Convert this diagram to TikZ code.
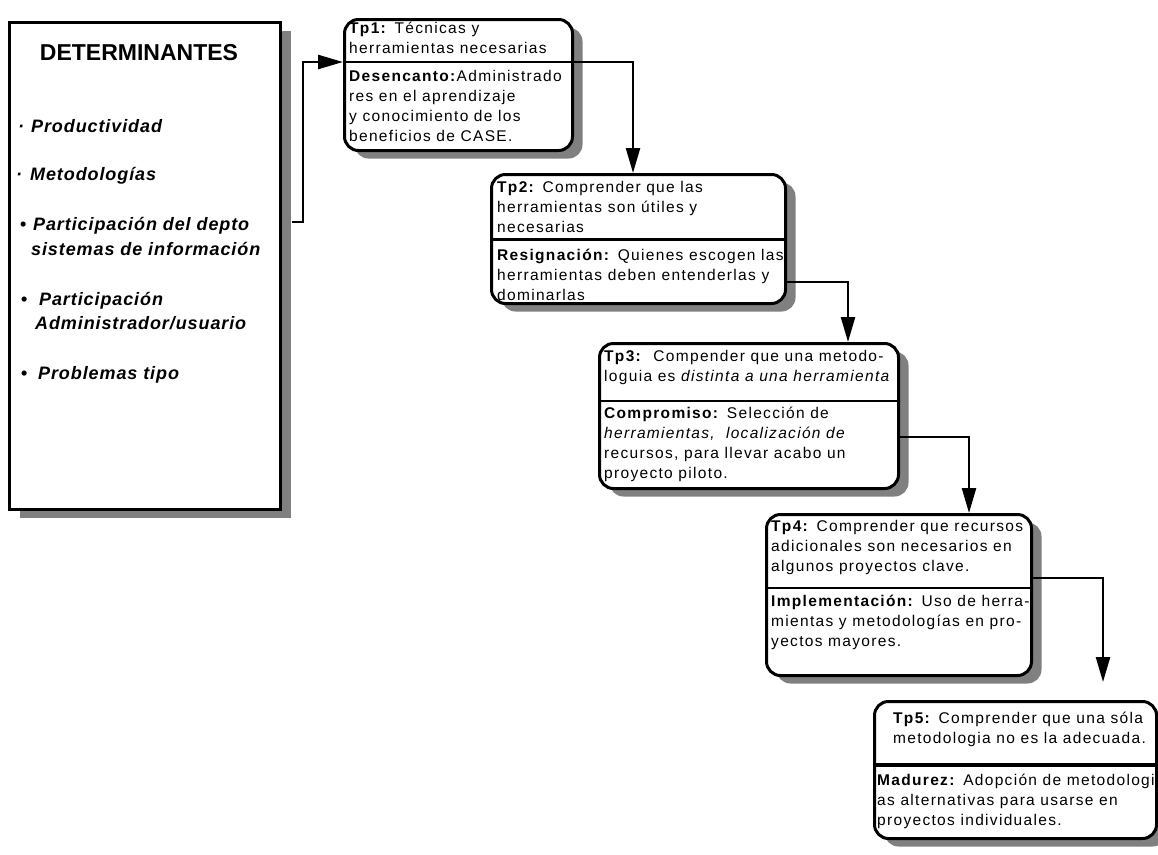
\documentclass[tikz,border=0pt]{standalone}
\usepackage{fontspec}
\setmainfont{Liberation Sans}
\newfontfamily\boxfam{Liberation Sans}[LetterSpace=8.5]
\newfontfamily\itemfam{Liberation Sans}[LetterSpace=5]
\usetikzlibrary{arrows.meta,shadows,calc}
\newcommand\bodyf{\boxfam\fontsize{15.5}{20}\selectfont}
\newcommand\itemf{\itemfam\bfseries\itshape\fontsize{18}{24}\selectfont}
\newcommand\titlef{\bfseries\fontsize{23}{28}\selectfont}
\begin{document}
\begin{tikzpicture}[x=1pt,y=-1pt,
  card/.style={draw, line width=3pt, rounded corners=14pt, fill=white,
    anchor=north west, inner sep=0pt,
    drop shadow={shadow xshift=10pt, shadow yshift=-8pt, fill=black!50, opacity=1, draw=none}},
  divl/.style={line width=2.4pt},
  conn/.style={line width=2.4pt, -{Triangle[length=25pt,width=14pt]}},
  txt/.style={anchor=north west, inner sep=0pt, align=left, font=\bodyf},
  item/.style={anchor=base west, inner sep=0pt, font=\itemf},
  bul/.style={anchor=base, inner sep=0pt, font=\itemf}]
\useasboundingbox (0,0) rectangle (1158,854);
\fill[white] (0,0) rectangle (1158,854);

% boxes
\node[card, sharp corners, minimum width=271pt, minimum height=487pt] (det) at (8,21) {};
\node[card, minimum width=228pt, minimum height=131pt] (tp1) at (343,18) {};
\node[card, minimum width=294pt, minimum height=129pt] (tp2) at (490,173) {};
\node[card, minimum width=299pt, minimum height=145pt] (tp3) at (598,342) {};
\node[card, minimum width=265pt, minimum height=161pt] (tp4) at (765,513) {};
\node[card, minimum width=282pt, minimum height=137pt] (tp5) at (873,700) {};

% dividers
\draw[divl] (tp1.west |- 0,62) -- (tp1.east |- 0,62);
\draw[divl, line width=3pt] (tp2.west |- 0,239) -- (tp2.east |- 0,239);
\draw[divl] (tp3.west |- 0,401) -- (tp3.east |- 0,401);
\draw[divl] (tp4.west |- 0,588) -- (tp4.east |- 0,588);
\draw[divl, line width=4.5pt] (tp5.west |- 0,765) -- (tp5.east |- 0,765);

% connectors
\draw[conn] ($(det.east |- 0,222)+(10,0)$) -| (303,62) -- (tp1.west |- 0,62);
\draw[conn] (tp1.east |- 0,62) -| (tp2.north -| 633,0);
\draw[conn] (tp2.east |- 0,282) -| (tp3.north -| 848,0);
\draw[conn] (tp3.east |- 0,437) -| (tp4.north -| 969,0);
\draw[conn, shorten >=18pt] (tp4.east |- 0,578) -| (tp5.north -| 1103,0);

% determinantes
\node[font=\titlef, anchor=base, inner sep=0pt] (title) at (139,60) {DETERMINANTES};
\node[bul] (b1) at (21,132) {·};
\node[item] (i1) at (31,132) {Productividad};
\node[bul] (b2) at (19,180) {·};
\node[item] (i2) at (30,180) {Metodologías};
\node[bul] (b3) at (23,230) {•};
\node[item] (i3) at (33,230) {Participación del depto};
\node[item] (i3b) at (31,255) {sistemas de información};
\node[bul] (b4) at (24,305) {•};
\node[item] (i4) at (39,305) {Participación};
\node[item] (i4b) at (35,329) {Administrador/usuario};
\node[bul] (b5) at (24,379) {•};
\node[item] (i5) at (38,379) {Problemas tipo};

% box texts
\node[txt] (tp1u) at (349,19) {\strut\textbf{Tp1:} Técnicas y\\herramientas necesarias};
\node[txt] (tp1l) at (349,67) {\strut\textbf{Desencanto:}Administrado\\res en el aprendizaje\\y conocimiento de los\\beneficios de CASE.};
\node[txt] (tp2u) at (497,178) {\strut\textbf{Tp2:} Comprender que las\\herramientas son útiles y\\necesarias};
\node[txt] (tp2l) at (497,246) {\strut\textbf{Resignación:} Quienes escogen las\\herramientas deben entenderlas y\\dominarlas};
\node[txt] (tp3u) at (604,347) {\strut\textbf{Tp3:}\ \ Compender que una metodo-\\loguia es \textit{distinta a una herramienta}};
\node[txt] (tp3l) at (604,404) {\strut\textbf{Compromiso:} Selección de\\\textit{herramientas,\ \ localización de}\\recursos, para llevar acabo un\\proyecto piloto.};
\node[txt] (tp4u) at (771,517) {\strut\textbf{Tp4:} Comprender que recursos\\adicionales son necesarios en\\algunos proyectos clave.};
\node[txt] (tp4l) at (771,592) {\strut\textbf{Implementación:} Uso de herra-\\mientas y metodologías en pro-\\yectos mayores.};
\node[txt] (tp5u) at (893,709) {\strut\textbf{Tp5:} Comprender que una sóla\\metodologia no es la adecuada.};
\node[txt] (tp5l) at (877,771) {\strut\textbf{Madurez:} Adopción de metodologi\\as alternativas para usarse en\\proyectos individuales.};
\end{tikzpicture}
\end{document}
